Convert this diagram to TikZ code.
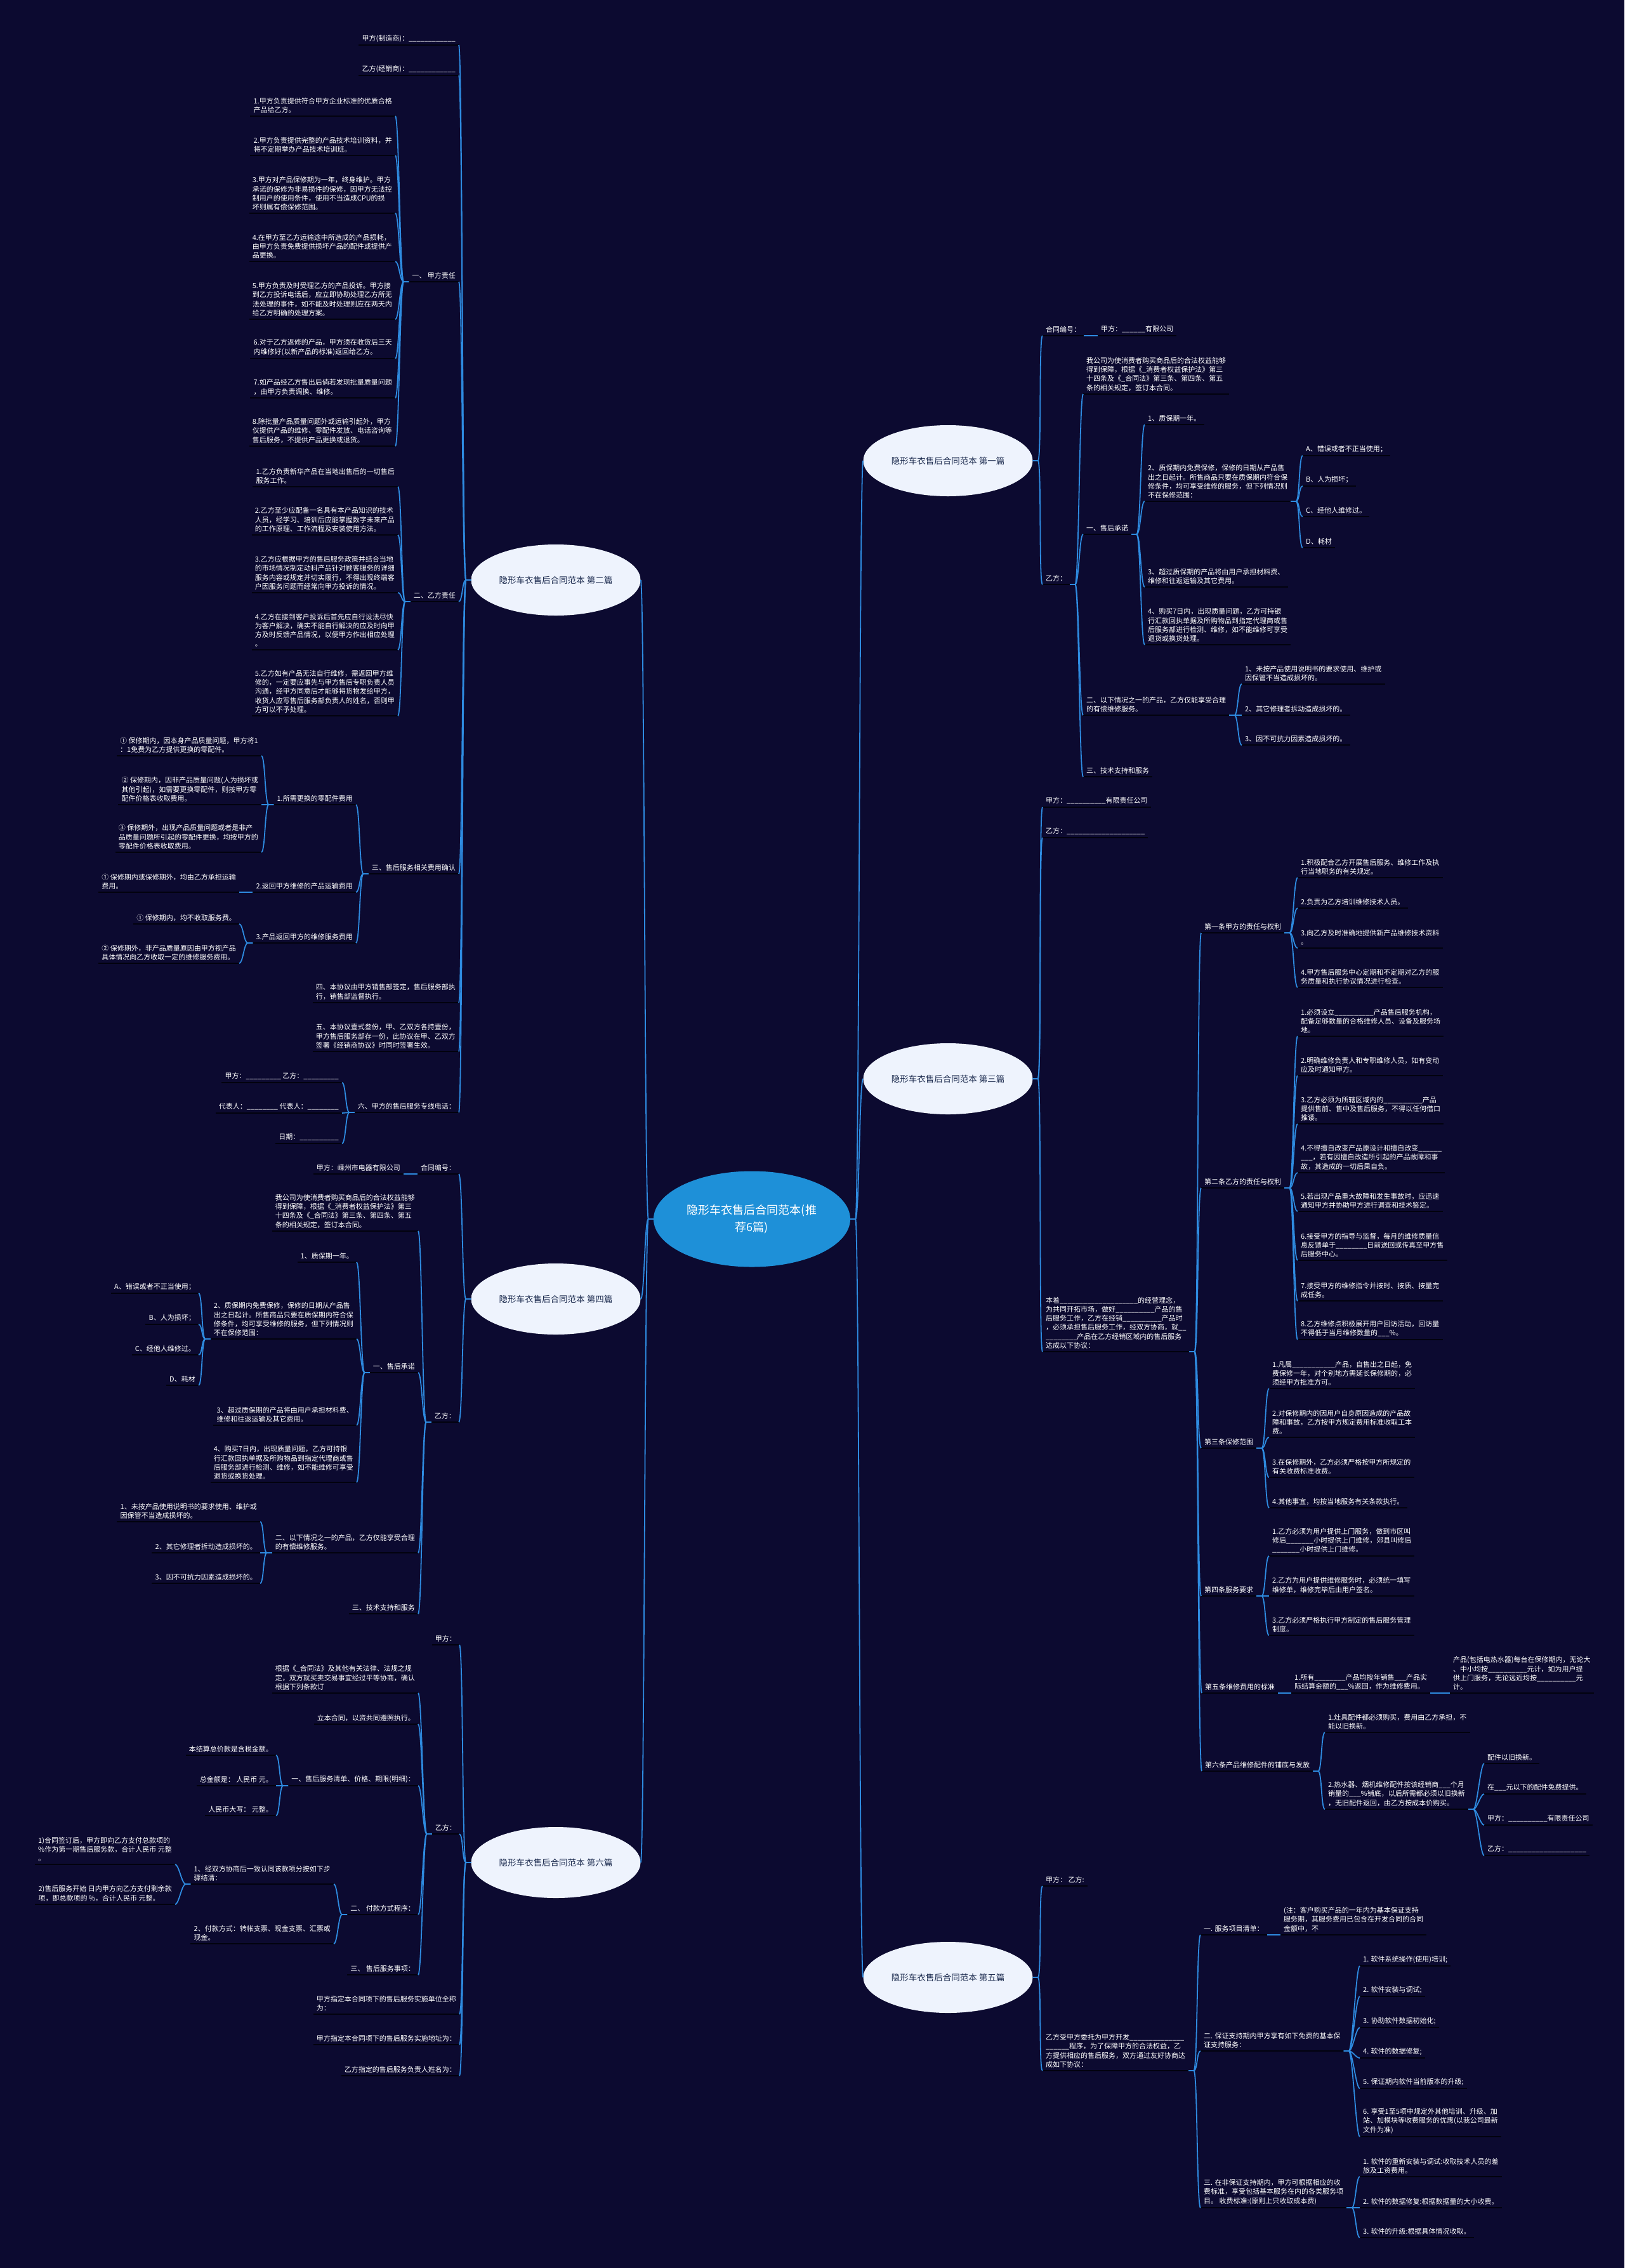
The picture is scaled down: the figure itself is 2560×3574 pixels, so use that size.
\documentclass[tikz,border=0pt]{standalone}
\usepackage{fontspec}
\setmainfont{Noto Sans CJK SC}
\usepackage{tikz}
\usetikzlibrary{shapes.geometric}
\definecolor{bgnavy}{HTML}{0C0A30}
\definecolor{linkblue}{HTML}{2E8BE0}
\definecolor{ulinedark}{HTML}{02020E}
\definecolor{topicfill}{HTML}{EEF3FD}
\definecolor{topictext}{HTML}{1B2A4E}
\definecolor{rootblue}{HTML}{1E90D8}
\catcode`\_=12
\newcommand{\introtext}{我公司为使消费者购买商品后的合法权益能够\\得到保障，根据《_消费者权益保护法》第三\\十四条及《_合同法》第三条、第四条、第五\\条的相关规定，签订本合同。}
\newcommand{\freerepair}{2、质保期内免费保修，保修的日期从产品售\\出之日起计。所售商品只要在质保期内符合保\\修条件，均可享受维修的服务，但下列情况则\\不在保修范围：}
\newcommand{\overdue}{3、超过质保期的产品将由用户承担材料费、\\维修和往返运输及其它费用。}
\newcommand{\sevendays}{4、购买7日内，出现质量问题，乙方可持银\\行汇款回执单据及所购物品到指定代理商或售\\后服务部进行检测、维修，如不能维修可享受\\退货或换货处理。}
\newcommand{\paidrepair}{二、以下情况之一的产品，乙方仅能享受合理\\的有偿维修服务。}
\newcommand{\misuse}{1、未按产品使用说明书的要求使用、维护或\\因保管不当造成损坏的。}

\begin{document}
\begin{tikzpicture}[x=1pt,y=-1pt,
  leaf/.style={text=white,font=\fontsize{11}{14.2}\selectfont,align=left,inner xsep=5pt,inner ysep=4.5pt,
    append after command={\pgfextra{\let\ulnode\tikzlastnode}
      (\ulnode.south west) edge[draw=ulinedark,line width=1.8pt] (\ulnode.south east)}},
  rleaf/.style={leaf,anchor=south west},
  lleaf/.style={leaf,anchor=south east},
  topic/.style={ellipse,fill=topicfill,text=topictext,minimum width=267pt,minimum height=112pt,inner sep=0pt,font=\fontsize{13.5}{16}\selectfont},
  root/.style={ellipse,fill=rootblue,text=white,minimum width=310pt,minimum height=151pt,inner sep=0pt,align=center,font=\fontsize{18}{27}\selectfont},
  link/.style={draw=linkblue,line width=1.8pt},
  rl/.style={to path={-- ++(8,0) .. controls +(6,0) and +(-6,0) .. (\tikztotarget)}},
  lr/.style={to path={-- ++(-8,0) .. controls +(-6,0) and +(6,0) .. (\tikztotarget)}}]
\fill[bgnavy] (0,0) rectangle (2560,3574);
\useasboundingbox (0,0) rectangle (2560,3574);

% centre and the six contracts
\node[root] (root) at (1185,1921) {隐形车衣售后合同范本(推\\荐6篇)};
\node[topic] (b1) at (1494,726) {隐形车衣售后合同范本 第一篇};
\node[topic] (b3) at (1494,1700) {隐形车衣售后合同范本 第三篇};
\node[topic] (b5) at (1494,3116) {隐形车衣售后合同范本 第五篇};
\node[topic] (b2) at (876,914) {隐形车衣售后合同范本 第二篇};
\node[topic] (b4) at (876,2047) {隐形车衣售后合同范本 第四篇};
\node[topic] (b6) at (876,2935) {隐形车衣售后合同范本 第六篇};

% first
\node[rleaf] (a1) at (1643,529) {合同编号：};
\node[rleaf] (a1j) at (1730,529) {甲方：______有限公司};
\node[rleaf] (a1y) at (1643,921) {乙方：};
\node[rleaf] (a1p) at (1707,621) {\introtext};
\node[rleaf] (a1s1) at (1707,842) {一、售后承诺};
\node[rleaf] (a1s1a) at (1804,669) {1、质保期一年。};
\node[rleaf] (a1s1b) at (1804,790) {\freerepair};
\node[rleaf] (a1A) at (2053,718) {A、错误或者不正当使用；};
\node[rleaf] (a1B) at (2053,766) {B、人为损坏；};
\node[rleaf] (a1C) at (2053,814) {C、经他人维修过。};
\node[rleaf] (a1D) at (2053,863) {D、耗材};
\node[rleaf] (a1s1c) at (1804,925) {\overdue};
\node[rleaf] (a1s1d) at (1804,1016) {\sevendays};
\node[rleaf] (a1s2) at (1707,1127) {\paidrepair};
\node[rleaf] (a1s2a) at (1957,1078) {\misuse};
\node[rleaf] (a1s2b) at (1957,1127) {2、其它修理者拆动造成损坏的。};
\node[rleaf] (a1s2c) at (1957,1174) {3、因不可抗力因素造成损坏的。};
\node[rleaf] (a1s3) at (1707,1224) {三、技术支持和服务};

% third
\node[rleaf] (c3j) at (1643,1272) {甲方：__________有限责任公司};
\node[rleaf] (c3y) at (1643,1320) {乙方：____________________};
\node[rleaf] (c3p) at (1643,2130) {本着____________________的经营理念，\\为共同开拓市场，做好__________产品的售\\后服务工作，乙方在经销__________产品时\\，必须承担售后服务工作，经双方协商，就__\\________产品在乙方经销区域内的售后服务\\达成以下协议：};
\node[rleaf] (t1) at (1893,1470) {第一条甲方的责任与权利};
\node[rleaf] (t1a) at (2045,1383) {1.积极配合乙方开展售后服务、维修工作及执\\行当地职务的有关规定。};
\node[rleaf] (t1b) at (2045,1431) {2.负责为乙方培训维修技术人员。};
\node[rleaf] (t1c) at (2045,1494) {3.向乙方及时准确地提供新产品维修技术资料\\。};
\node[rleaf] (t1d) at (2045,1556) {4.甲方售后服务中心定期和不定期对乙方的服\\务质量和执行协议情况进行检查。};
\node[rleaf] (t2) at (1893,1872) {第二条乙方的责任与权利};
\node[rleaf] (t2a) at (2045,1633) {1.必须设立__________产品售后服务机构，\\配备足够数量的合格维修人员、设备及服务场\\地。};
\node[rleaf] (t2b) at (2045,1695) {2.明确维修负责人和专职维修人员，如有变动\\应及时通知甲方。};
\node[rleaf] (t2c) at (2045,1771) {3.乙方必须为所辖区域内的__________产品\\提供售前、售中及售后服务，不得以任何借口\\推诿。};
\node[rleaf] (t2d) at (2045,1848) {4.不得擅自改变产品原设计和擅自改变______\\___，若有因擅自改造所引起的产品故障和事\\故，其造成的一切后果自负。};
\node[rleaf] (t2e) at (2045,1909) {5.若出现产品重大故障和发生事故时，应迅速\\通知甲方并协助甲方进行调查和技术鉴定。};
\node[rleaf] (t2f) at (2045,1986) {6.接受甲方的指导与监督，每月的维修质量信\\息反馈单于________日前送回或传真至甲方售\\后服务中心。};
\node[rleaf] (t2g) at (2045,2050) {7.接受甲方的维修指令并按时、按质、按量完\\成任务。};
\node[rleaf] (t2h) at (2045,2111) {8.乙方维修点积极展开用户回访活动，回访量\\不得低于当月维修数量的___\%。};
\node[rleaf] (t3) at (1893,2282) {第三条保修范围};
\node[rleaf] (t3a) at (2000,2188) {1.凡属___________产品，自售出之日起，免\\费保修一年，对个别地方需延长保修期的，必\\须经甲方批准方可。};
\node[rleaf] (t3b) at (2000,2265) {2.对保修期内的因用户自身原因造成的产品故\\障和事故，乙方按甲方规定费用标准收取工本\\费。};
\node[rleaf] (t3c) at (2000,2328) {3.在保修期外，乙方必须严格按甲方所规定的\\有关收费标准收费。};
\node[rleaf] (t3d) at (2000,2376) {4.其他事宜，均按当地服务有关条款执行。};
\node[rleaf] (t4) at (1893,2515) {第四条服务要求};
\node[rleaf] (t4a) at (2000,2452) {1.乙方必须为用户提供上门服务，做到市区叫\\修后_______小时提供上门维修，郊县叫修后\\_______小时提供上门维修。};
\node[rleaf] (t4b) at (2000,2515) {2.乙方为用户提供维修服务时，必须统一填写\\维修单，维修完毕后由用户签名。};
\node[rleaf] (t4c) at (2000,2577) {3.乙方必须严格执行甲方制定的售后服务管理\\制度。};
\node[rleaf] (t5) at (1894,2668) {第五条维修费用的标准};
\node[rleaf] (t5a) at (2035,2668) {1.所有________产品均按年销售___产品实\\际结算金额的___\%返回，作为维修费用。};
\node[rleaf] (t5b) at (2285,2668) {产品(包括电热水器)每台在保修期内，无论大\\、中小均按__________元计，如为用户提\\供上门服务，无论远近均按__________元\\计。};
\node[rleaf] (t6) at (1894,2791) {第六条产品维修配件的铺底与发放};
\node[rleaf] (t6a) at (2088,2730) {1.灶具配件都必须购买，费用由乙方承担，不\\能以旧换新。};
\node[rleaf] (t6b) at (2088,2851) {2.热水器、烟机维修配件按该经销商___个月\\销量的___\%铺底，以后所需都必须以旧换新\\，无旧配件返回，由乙方按成本价购买。};
\node[rleaf] (t6c) at (2339,2779) {配件以旧换新。};
\node[rleaf] (t6d) at (2339,2827) {在___元以下的配件免费提供。};
\node[rleaf] (t6e) at (2339,2876) {甲方：__________有限责任公司};
\node[rleaf] (t6f) at (2339,2924) {乙方：____________________};

% fifth
\node[rleaf] (f5j) at (1643,2972) {甲方： 乙方:};
\node[rleaf] (f5p) at (1643,3263) {乙方受甲方委托为甲方开发______________\\______程序，为了保障甲方的合法权益，乙\\方提供相应的售后服务，双方通过友好协商达\\成如下协议：};
\node[rleaf] (f51) at (1892,3049) {一. 服务项目清单：};
\node[rleaf] (f51a) at (2018,3049) {(注：客户购买产品的一年内为基本保证支持\\服务期，其服务费用已包含在开发合同的合同\\金额中，不};
\node[rleaf] (f52) at (1892,3232) {二. 保证支持期内甲方享有如下免费的基本保\\证支持服务：};
\node[rleaf] (f52a) at (2143,3098) {1. 软件系统操作(使用)培训;};
\node[rleaf] (f52b) at (2143,3146) {2. 软件安装与调试;};
\node[rleaf] (f52c) at (2143,3195) {3. 协助软件数据初始化;};
\node[rleaf] (f52d) at (2143,3243) {4. 软件的数据修复;};
\node[rleaf] (f52e) at (2143,3291) {5. 保证期内软件当前版本的升级;};
\node[rleaf] (f52f) at (2143,3367) {6. 享受1至5项中规定外其他培训、升级、加\\站、加模块等收费服务的优惠(以我公司最新\\文件为准)};
\node[rleaf] (f53) at (1892,3479) {三. 在非保证支持期内，甲方可根据相应的收\\费标准，享受包括基本服务在内的各类服务项\\目。 收费标准:(原则上只收取成本费)};
\node[rleaf] (f53a) at (2143,3430) {1. 软件的重新安装与调试:收取技术人员的差\\旅及工资费用。};
\node[rleaf] (f53b) at (2143,3479) {2. 软件的数据修复:根据数据量的大小收费。};
\node[rleaf] (f53c) at (2143,3526) {3. 软件的升级:根据具体情况收取。};

% second
\node[lleaf] (e2j) at (723,71) {甲方(制造商)：____________};
\node[lleaf] (e2y) at (723,119) {乙方(经销商)：____________};
\node[lleaf] (e21) at (723,444) {一、 甲方责任};
\node[lleaf] (e21a) at (623,183) {1.甲方负责提供符合甲方企业标准的优质合格\\产品给乙方。};
\node[lleaf] (e21b) at (623,245) {2.甲方负责提供完整的产品技术培训资料，并\\将不定期举办产品技术培训班。};
\node[lleaf] (e21c) at (623,336) {3.甲方对产品保修期为一年，终身维护。甲方\\承诺的保修为非易损件的保修，因甲方无法控\\制用户的使用条件，使用不当造成CPU的损\\坏则属有偿保修范围。};
\node[lleaf] (e21d) at (623,412) {4.在甲方至乙方运输途中所造成的产品损耗，\\由甲方负责免费提供损坏产品的配件或提供产\\品更换。};
\node[lleaf] (e21e) at (623,503) {5.甲方负责及时受理乙方的产品投诉。甲方接\\到乙方投诉电话后，应立即协助处理乙方所无\\法处理的事件，如不能及时处理则应在两天内\\给乙方明确的处理方案。};
\node[lleaf] (e21f) at (623,565) {6.对于乙方返修的产品，甲方须在收货后三天\\内维修好(以新产品的标准)返回给乙方。};
\node[lleaf] (e21g) at (623,627) {7.如产品经乙方售出后倘若发现批量质量问题\\，由甲方负责调换、维修。};
\node[lleaf] (e21h) at (623,703) {8.除批量产品质量问题外或运输引起外，甲方\\仅提供产品的维修、零配件发放、电话咨询等\\售后服务，不提供产品更换或退货。};
\node[lleaf] (e22) at (723,948) {二、乙方责任};
\node[lleaf] (e22a) at (627,767) {1.乙方负责新华产品在当地出售后的一切售后\\服务工作。};
\node[lleaf] (e22b) at (627,843) {2.乙方至少应配备一名具有本产品知识的技术\\人员，经学习、培训后应能掌握数字未来产品\\的工作原理、工作流程及安装使用方法。};
\node[lleaf] (e22c) at (627,934) {3.乙方应根据甲方的售后服务政策并结合当地\\的市场情况制定动科产品针对顾客服务的详细\\服务内容或规定并切实履行，不得出现终端客\\户因服务问题而经常向甲方投诉的情况。};
\node[lleaf] (e22d) at (627,1024) {4.乙方在接到客户投诉后首先应自行设法尽快\\为客户解决，确实不能自行解决的应及时向甲\\方及时反馈产品情况，以便甲方作出相应处理\\。};
\node[lleaf] (e22e) at (627,1128) {5.乙方如有产品无法自行维修，需返回甲方维\\修的，一定要应事先与甲方售后专职负责人员\\沟通，经甲方同意后才能够将货物发给甲方，\\收货人应写售后服务部负责人的姓名，否则甲\\方可以不予处理。};
\node[lleaf] (e23) at (723,1377) {三、售后服务相关费用确认};
\node[lleaf] (e231) at (561,1268) {1.所需更换的零配件费用};
\node[lleaf] (e231a) at (412,1191) {① 保修期内，因本身产品质量问题，甲方将1\\：1免费为乙方提供更换的零配件。};
\node[lleaf] (e231b) at (412,1268) {② 保修期内，因非产品质量问题(人为损坏或\\其他引起)，如需要更换零配件，则按甲方零\\配件价格表收取费用。};
\node[lleaf] (e231c) at (412,1343) {③ 保修期外，出现产品质量问题或者是非产\\品质量问题所引起的零配件更换，均按甲方的\\零配件价格表收取费用。};
\node[lleaf] (e232) at (561,1406) {2.返回甲方维修的产品运输费用};
\node[lleaf] (e232a) at (377,1406) {① 保修期内或保修期外，均由乙方承担运输\\费用。};
\node[lleaf] (e233) at (561,1486) {3.产品返回甲方的维修服务费用};
\node[lleaf] (e233a) at (377,1456) {① 保修期内，均不收取服务费。};
\node[lleaf] (e233b) at (377,1518) {② 保修期外，非产品质量原因由甲方视产品\\具体情况向乙方收取一定的维修服务费用。};
\node[lleaf] (e24) at (723,1580) {四、本协议由甲方销售部签定，售后服务部执\\行，销售部监督执行。};
\node[lleaf] (e25) at (723,1657) {五、本协议壹式叁份，甲、乙双方各持壹份，\\甲方售后服务部存一份，此协议在甲、乙双方\\签署《经销商协议》时同时签署生效。};
\node[lleaf] (e26) at (723,1753) {六、甲方的售后服务专线电话：};
\node[lleaf] (e26a) at (539,1706) {甲方：_________ 乙方：_________};
\node[lleaf] (e26b) at (539,1754) {代表人：________ 代表人：________};
\node[lleaf] (e26c) at (539,1802) {日期：__________};

% fourth
\node[lleaf] (g4n) at (723,1850) {合同编号：};
\node[lleaf] (g4j) at (636,1850) {甲方：嵊州市电器有限公司};
\node[lleaf] (g4y) at (723,2241) {乙方：};
\node[lleaf] (g4p) at (659,1940) {\introtext};
\node[lleaf] (g41) at (659,2163) {一、售后承诺};
\node[lleaf] (g41a) at (562,1989) {1、质保期一年。};
\node[lleaf] (g41b) at (562,2110) {\freerepair};
\node[lleaf] (g4A) at (313,2038) {A、错误或者不正当使用；};
\node[lleaf] (g4B) at (313,2087) {B、人为损坏；};
\node[lleaf] (g4C) at (313,2135) {C、经他人维修过。};
\node[lleaf] (g4D) at (313,2183) {D、耗材};
\node[lleaf] (g41c) at (562,2246) {\overdue};
\node[lleaf] (g41d) at (562,2336) {\sevendays};
\node[lleaf] (g42) at (659,2447) {\paidrepair};
\node[lleaf] (g42a) at (410,2398) {\misuse};
\node[lleaf] (g42b) at (410,2447) {2、其它修理者拆动造成损坏的。};
\node[lleaf] (g42c) at (410,2495) {3、因不可抗力因素造成损坏的。};
\node[lleaf] (g43) at (659,2543) {三、技术支持和服务};

% sixth
\node[lleaf] (h6j) at (724,2592) {甲方：};
\node[lleaf] (h6y) at (724,2890) {乙方：};
\node[lleaf] (h6p) at (659,2668) {根据《_合同法》及其他有关法律、法规之规\\定，双方就买卖交易事宜经过平等协商，确认\\根据下列条款订};
\node[lleaf] (h6q) at (659,2717) {立本合同，以资共同遵照执行。};
\node[lleaf] (h61) at (659,2814) {一、售后服务清单、价格、期限(明细)：};
\node[lleaf] (h61a) at (435,2766) {本结算总价款是含税金额。};
\node[lleaf] (h61b) at (435,2814) {总金额是： 人民币 元。};
\node[lleaf] (h61c) at (435,2861) {人民币大写： 元整。};
\node[lleaf] (h62) at (659,3017) {二、 付款方式程序：};
\node[lleaf] (h621) at (526,2969) {1、经双方协商后一致认同该款项分按如下步\\骤结清：};
\node[lleaf] (h621a) at (276,2938) {1)合同签订后，甲方即向乙方支付总款项的\\\%作为第一期售后服务款，合计人民币 元整\\。};
\node[lleaf] (h621b) at (276,3001) {2)售后服务开始 日内甲方向乙方支付剩余款\\项，即总款项的 \%，合计人民币 元整。};
\node[lleaf] (h622) at (526,3063) {2、付款方式：转帐支票、现金支票、汇票或\\现金。};
\node[lleaf] (h63) at (659,3112) {三、 售后服务事项：};
\node[lleaf] (h6s) at (724,3174) {甲方指定本合同项下的售后服务实施单位全称\\为：};
\node[lleaf] (h6t) at (724,3222) {甲方指定本合同项下的售后服务实施地址为：};
\node[lleaf] (h6u) at (724,3271) {乙方指定的售后服务负责人姓名为：};

% connectors, right side
\foreach \c in {b1,b3,b5} \draw[link] (root.east) to[rl] (\c.west);
\foreach \c in {a1,a1y} \draw[link] (b1.east) to[rl] (\c.south west);
\draw[link] (a1.south east) to[rl] (a1j.south west);
\foreach \c in {a1p,a1s1,a1s2,a1s3} \draw[link] (a1y.south east) to[rl] (\c.south west);
\foreach \c in {a1s1a,a1s1b,a1s1c,a1s1d} \draw[link] (a1s1.south east) to[rl] (\c.south west);
\foreach \c in {a1A,a1B,a1C,a1D} \draw[link] (a1s1b.south east) to[rl] (\c.south west);
\foreach \c in {a1s2a,a1s2b,a1s2c} \draw[link] (a1s2.south east) to[rl] (\c.south west);
\foreach \c in {c3j,c3y,c3p} \draw[link] (b3.east) to[rl] (\c.south west);
\foreach \c in {t1,t2,t3,t4,t5,t6} \draw[link] (c3p.south east) to[rl] (\c.south west);
\foreach \c in {t1a,t1b,t1c,t1d} \draw[link] (t1.south east) to[rl] (\c.south west);
\foreach \c in {t2a,t2b,t2c,t2d,t2e,t2f,t2g,t2h} \draw[link] (t2.south east) to[rl] (\c.south west);
\foreach \c in {t3a,t3b,t3c,t3d} \draw[link] (t3.south east) to[rl] (\c.south west);
\foreach \c in {t4a,t4b,t4c} \draw[link] (t4.south east) to[rl] (\c.south west);
\draw[link] (t5.south east) to[rl] (t5a.south west);
\draw[link] (t5a.south east) to[rl] (t5b.south west);
\foreach \c in {t6a,t6b} \draw[link] (t6.south east) to[rl] (\c.south west);
\foreach \c in {t6c,t6d,t6e,t6f} \draw[link] (t6b.south east) to[rl] (\c.south west);
\foreach \c in {f5j,f5p} \draw[link] (b5.east) to[rl] (\c.south west);
\foreach \c in {f51,f52,f53} \draw[link] (f5p.south east) to[rl] (\c.south west);
\draw[link] (f51.south east) to[rl] (f51a.south west);
\foreach \c in {f52a,f52b,f52c,f52d,f52e,f52f} \draw[link] (f52.south east) to[rl] (\c.south west);
\foreach \c in {f53a,f53b,f53c} \draw[link] (f53.south east) to[rl] (\c.south west);

% connectors, left side
\foreach \c in {b2,b4,b6} \draw[link] (root.west) to[lr] (\c.east);
\foreach \c in {e2j,e2y,e21,e22,e23,e24,e25,e26} \draw[link] (b2.west) to[lr] (\c.south east);
\foreach \c in {e21a,e21b,e21c,e21d,e21e,e21f,e21g,e21h} \draw[link] (e21.south west) to[lr] (\c.south east);
\foreach \c in {e22a,e22b,e22c,e22d,e22e} \draw[link] (e22.south west) to[lr] (\c.south east);
\foreach \c in {e231,e232,e233} \draw[link] (e23.south west) to[lr] (\c.south east);
\foreach \c in {e231a,e231b,e231c} \draw[link] (e231.south west) to[lr] (\c.south east);
\draw[link] (e232.south west) to[lr] (e232a.south east);
\foreach \c in {e233a,e233b} \draw[link] (e233.south west) to[lr] (\c.south east);
\foreach \c in {e26a,e26b,e26c} \draw[link] (e26.south west) to[lr] (\c.south east);
\foreach \c in {g4n,g4y} \draw[link] (b4.west) to[lr] (\c.south east);
\draw[link] (g4n.south west) to[lr] (g4j.south east);
\foreach \c in {g4p,g41,g42,g43} \draw[link] (g4y.south west) to[lr] (\c.south east);
\foreach \c in {g41a,g41b,g41c,g41d} \draw[link] (g41.south west) to[lr] (\c.south east);
\foreach \c in {g4A,g4B,g4C,g4D} \draw[link] (g41b.south west) to[lr] (\c.south east);
\foreach \c in {g42a,g42b,g42c} \draw[link] (g42.south west) to[lr] (\c.south east);
\foreach \c in {h6j,h6y,h6s,h6t,h6u} \draw[link] (b6.west) to[lr] (\c.south east);
\foreach \c in {h6p,h6q,h61,h62,h63} \draw[link] (h6y.south west) to[lr] (\c.south east);
\foreach \c in {h61a,h61b,h61c} \draw[link] (h61.south west) to[lr] (\c.south east);
\foreach \c in {h621,h622} \draw[link] (h62.south west) to[lr] (\c.south east);
\foreach \c in {h621a,h621b} \draw[link] (h621.south west) to[lr] (\c.south east);
\end{tikzpicture}
\end{document}
